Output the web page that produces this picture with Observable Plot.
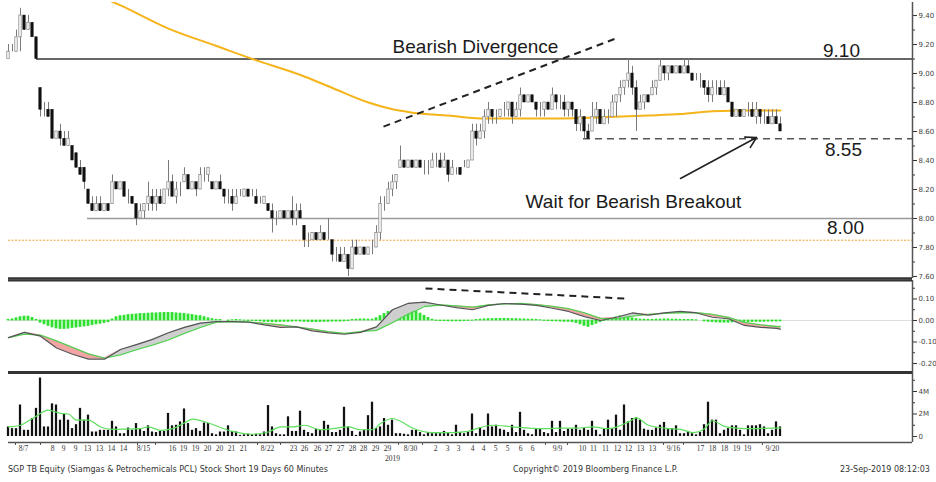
<!DOCTYPE html>
<html><head><meta charset="utf-8">
<script src="https://cdn.jsdelivr.net/npm/d3@7"></script>
<script src="https://cdn.jsdelivr.net/npm/@observablehq/plot@0.6"></script>
<style>
html,body{margin:0;padding:0;background:#fff;}
#wrap{position:relative;width:936px;height:482px;overflow:hidden;background:#fff;}
#wrap svg{position:absolute;left:0;display:block;max-width:none;}
.foot{position:absolute;top:465px;font:8px "DejaVu Sans",sans-serif;line-height:10px;color:#333;white-space:nowrap;}
</style></head><body><div id="wrap"></div>
<script>
// ---------- price bars (60-minute), one per bar index ----------
const open = [9.10,9.15,9.15,9.25,9.40,9.30,9.35,9.25,8.90,8.75,
 8.75,8.75,8.55,8.60,8.55,8.50,8.50,8.45,8.35,8.35,
 8.20,8.10,8.05,8.10,8.05,8.10,8.10,8.25,8.20,8.25,
 8.15,8.15,8.10,8.00,8.05,8.10,8.15,8.10,8.15,8.10,
 8.20,8.25,8.15,8.20,8.25,8.30,8.20,8.25,8.20,8.30,
 8.30,8.25,8.20,8.25,8.20,8.15,8.15,8.10,8.15,8.15,
 8.20,8.15,8.15,8.10,8.10,8.10,8.05,8.00,8.00,8.05,
 8.00,8.05,8.00,8.05,7.95,7.85,7.85,7.90,7.85,7.90,
 7.85,7.85,7.75,7.75,7.70,7.75,7.65,7.80,7.75,7.80,
 7.75,7.80,7.80,7.90,8.10,8.10,8.20,8.25,8.35,8.40,
 8.35,8.40,8.35,8.40,8.35,8.35,8.35,8.40,8.40,8.35,
 8.40,8.30,8.35,8.35,8.35,8.35,8.40,8.60,8.55,8.60,
 8.70,8.75,8.70,8.70,8.75,8.75,8.80,8.70,8.75,8.85,
 8.80,8.85,8.80,8.75,8.75,8.80,8.75,8.85,8.80,8.80,
 8.75,8.80,8.75,8.65,8.70,8.60,8.60,8.70,8.75,8.65,
 8.70,8.70,8.80,8.85,8.90,8.95,9.00,8.90,8.75,8.80,
 8.85,8.85,8.90,8.95,9.05,9.00,9.05,9.00,9.05,9.00,
 9.05,9.00,8.95,8.95,8.95,8.90,8.85,8.90,8.90,8.85,
 8.90,8.80,8.70,8.75,8.70,8.75,8.75,8.70,8.75,8.70,
 8.70,8.65,8.70,8.65];
const high = [9.20,9.20,9.30,9.45,9.40,9.40,9.35,9.25,8.90,8.80,
 8.80,8.75,8.60,8.65,8.60,8.60,8.50,8.45,8.40,8.35,
 8.20,8.15,8.15,8.15,8.10,8.10,8.30,8.25,8.25,8.25,
 8.20,8.15,8.10,8.10,8.10,8.25,8.20,8.20,8.20,8.20,
 8.40,8.30,8.25,8.25,8.35,8.30,8.25,8.25,8.35,8.35,
 8.35,8.25,8.25,8.30,8.20,8.20,8.20,8.20,8.20,8.20,
 8.20,8.20,8.20,8.15,8.15,8.10,8.10,8.05,8.05,8.05,
 8.05,8.15,8.10,8.10,7.95,7.90,7.90,7.90,7.95,7.90,
 8.00,7.85,7.80,7.80,7.80,7.75,7.85,7.85,7.80,7.80,
 7.80,7.85,7.95,8.15,8.15,8.25,8.30,8.30,8.50,8.40,
 8.40,8.40,8.40,8.40,8.40,8.40,8.45,8.45,8.45,8.45,
 8.40,8.40,8.35,8.35,8.40,8.40,8.65,8.65,8.65,8.75,
 8.80,8.75,8.75,8.75,8.80,8.80,8.80,8.80,8.90,8.85,
 8.85,8.85,8.80,8.80,8.80,8.80,8.90,8.85,8.85,8.85,
 8.80,8.80,8.75,8.75,8.70,8.65,8.80,8.80,8.75,8.75,
 8.75,8.85,8.85,8.95,8.95,9.10,9.05,8.95,8.85,8.85,
 8.85,8.95,8.95,9.10,9.05,9.05,9.05,9.05,9.05,9.10,
 9.10,9.00,9.00,9.00,8.95,8.95,8.95,8.95,8.95,8.95,
 8.90,8.80,8.75,8.75,8.75,8.80,8.80,8.80,8.75,8.75,
 8.75,8.75,8.75,8.70];
const low = [9.10,9.15,9.15,9.15,9.30,9.30,9.25,9.10,8.70,8.70,
 8.70,8.55,8.55,8.50,8.50,8.50,8.40,8.35,8.30,8.20,
 8.10,8.05,8.05,8.05,8.05,8.05,8.10,8.20,8.20,8.15,
 8.10,8.10,7.95,8.00,8.00,8.05,8.05,8.05,8.10,8.10,
 8.15,8.15,8.10,8.15,8.25,8.20,8.20,8.15,8.20,8.25,
 8.25,8.20,8.20,8.20,8.10,8.10,8.05,8.10,8.15,8.15,
 8.15,8.15,8.10,8.10,8.10,8.05,7.90,7.95,8.00,8.00,
 8.00,7.95,7.95,8.00,7.80,7.80,7.85,7.85,7.85,7.85,
 7.85,7.70,7.70,7.70,7.70,7.60,7.65,7.75,7.75,7.75,
 7.75,7.75,7.80,7.85,8.05,8.10,8.15,8.20,8.35,8.35,
 8.35,8.35,8.35,8.35,8.30,8.30,8.35,8.35,8.35,8.35,
 8.25,8.30,8.30,8.30,8.35,8.35,8.40,8.50,8.55,8.55,
 8.65,8.65,8.65,8.70,8.70,8.70,8.65,8.70,8.70,8.80,
 8.80,8.80,8.70,8.70,8.70,8.75,8.75,8.75,8.75,8.70,
 8.70,8.70,8.60,8.60,8.55,8.55,8.60,8.65,8.65,8.65,
 8.65,8.70,8.70,8.80,8.85,8.90,8.85,8.60,8.75,8.75,
 8.80,8.85,8.85,8.95,8.95,8.95,9.00,9.00,9.00,9.00,
 9.00,8.95,8.95,8.90,8.85,8.80,8.80,8.85,8.85,8.85,
 8.80,8.70,8.70,8.70,8.70,8.70,8.70,8.65,8.65,8.65,
 8.65,8.65,8.65,8.60];
const close = [9.15,9.15,9.25,9.40,9.30,9.35,9.25,9.10,8.75,8.75,
 8.70,8.55,8.60,8.55,8.50,8.55,8.40,8.35,8.30,8.25,
 8.10,8.05,8.10,8.05,8.10,8.05,8.25,8.20,8.25,8.15,
 8.15,8.10,8.00,8.05,8.10,8.15,8.10,8.15,8.10,8.20,
 8.25,8.15,8.20,8.20,8.30,8.20,8.25,8.20,8.30,8.30,
 8.35,8.20,8.25,8.20,8.15,8.15,8.10,8.15,8.15,8.20,
 8.15,8.15,8.10,8.10,8.15,8.05,8.00,8.00,8.05,8.00,
 8.05,8.00,8.05,8.00,7.85,7.85,7.90,7.85,7.90,7.85,
 7.85,7.75,7.75,7.70,7.75,7.65,7.80,7.75,7.80,7.75,
 7.80,7.80,7.90,8.10,8.10,8.20,8.25,8.30,8.40,8.35,
 8.40,8.35,8.40,8.35,8.35,8.35,8.40,8.40,8.35,8.40,
 8.30,8.35,8.35,8.30,8.35,8.40,8.60,8.55,8.60,8.70,
 8.75,8.70,8.70,8.75,8.75,8.80,8.70,8.75,8.85,8.80,
 8.85,8.80,8.75,8.75,8.80,8.75,8.85,8.80,8.80,8.75,
 8.80,8.75,8.65,8.70,8.60,8.55,8.70,8.75,8.65,8.70,
 8.70,8.80,8.85,8.90,8.95,9.00,8.90,8.75,8.80,8.85,
 8.80,8.90,8.95,9.05,9.00,9.05,9.00,9.05,9.00,9.05,
 9.00,8.95,8.95,8.95,8.90,8.85,8.90,8.90,8.85,8.90,
 8.80,8.70,8.75,8.70,8.75,8.75,8.70,8.75,8.70,8.70,
 8.65,8.70,8.65,8.60];
// volume in millions of shares
const volume = [0.85,0.7,0.7,2.8,0.55,0.55,1.6,2.5,5.2,0.85,
 0.85,2.9,2.8,1.45,2.0,1.45,0.7,1.05,2.5,1.45,
 1.9,0.4,0.4,0.55,0.55,0.55,1.35,0.85,0.25,0.25,
 0.75,0.55,1.15,0.7,0.45,0.95,0.4,0.35,0.45,0.45,
 2.05,0.95,1.0,1.3,2.45,1.15,0.55,0.7,0.45,1.2,
 1.15,0.25,0.15,0.4,0.4,0.95,0.45,0.4,0.1,0.15,
 0.2,0.15,0.2,0.15,0.4,2.75,0.85,0.25,0.15,0.15,
 1.75,0.45,0.45,2.25,0.55,0.35,0.25,0.65,0.55,1.35,
 1.0,0.35,0.35,0.55,2.6,0.85,0.45,0.1,0.4,0.55,
 1.85,3.05,0.7,0.85,1.6,1.0,1.45,0.25,0.25,0.2,
 0.15,0.55,0.55,0.35,0.15,0.35,0.25,0.25,0.25,0.45,
 0.35,0.15,1.0,0.35,0.25,0.4,2.0,0.25,0.75,0.55,
 2.0,0.85,1.0,0.65,0.55,0.35,1.0,0.35,2.15,0.55,
 0.25,0.15,0.65,0.65,0.35,0.25,1.35,0.35,1.35,0.45,
 0.65,0.65,1.0,0.55,0.7,0.55,1.35,0.55,0.15,0.65,
 1.45,0.7,1.9,0.55,2.8,1.3,1.6,1.65,1.45,0.65,
 0.55,0.55,0.75,1.0,1.25,0.65,0.7,0.95,0.25,0.25,
 0.45,0.25,0.15,0.35,1.05,3.05,1.45,1.45,0.25,0.55,
 0.7,0.95,0.95,0.55,0.15,0.95,0.95,0.95,1.05,0.85,
 0.25,0.55,1.3,0.85];
// MACD histogram, one per bar
const macdHist = [.003,.005,.01,.015,.018,.018,.012,.003,-.01,-.018,
 -.025,-.032,-.037,-.04,-.04,-.038,-.035,-.033,-.03,-.028,
 -.025,-.022,-.018,-.015,-.012,-.008,.005,.015,.02,.022,
 .025,.027,.028,.03,.03,.032,.033,.033,.034,.035,
 .035,.035,.033,.032,.03,.028,.025,.022,.02,.015,
 .01,.006,.003,.002,0,-.002,.001,.002,.001,-.001,
 -.002,-.002,-.003,-.004,-.006,-.007,-.008,-.008,-.007,-.006,
 -.006,-.005,-.004,-.005,-.006,-.007,-.008,-.008,-.007,-.006,
 -.006,-.005,-.005,-.005,-.004,-.003,.002,.004,.005,.005,
 .004,.004,.01,.02,.03,.04,.045,.05,.05,.05,
 .048,.045,.04,.032,.022,.012,.004,-.002,-.003,-.003,
 -.004,-.004,-.004,-.004,-.003,-.002,-.001,.002,.004,.005,
 .006,.006,.007,.007,.008,.007,.006,.006,.005,.005,
 .004,.004,.003,.001,-.002,-.003,-.004,-.004,-.005,-.006,
 -.006,-.008,-.012,-.018,-.025,-.03,-.022,-.015,-.008,-.002,
 .005,.01,.015,.02,.018,.015,.01,.006,.004,.004,
 .003,.003,.004,.004,.005,.005,.004,.004,.003,.003,
 .002,.002,.001,0,-.004,-.006,-.008,-.009,-.01,-.01,
 -.01,-.009,-.008,-.008,-.007,-.007,-.007,-.006,-.006,-.006,
 -.005,-.005,-.005,-.004];
// MACD and signal lines, read every 4th bar
const macdIdx = [0,4,8,12,16,20,24,28,32,36,40,44,48,52,56,60,64,68,72,76,80,84,88,92,96,100,104,108,112,116,120,124,128,132,136,140,144,148,152,156,160,164,168,172,176,180,184,188,192,193];
const macdVal = [-0.080,-0.055,-0.073,-0.128,-0.157,-0.180,-0.180,-0.135,-0.112,-0.088,
 -0.057,-0.032,-0.012,-0.005,-0.005,-0.008,-0.020,-0.032,-0.030,-0.048,
 -0.058,-0.064,-0.055,-0.030,0.050,0.080,0.085,0.072,0.060,0.050,
 0.070,0.079,0.076,0.070,0.057,0.042,0.018,0.000,0.015,0.035,
 0.025,0.035,0.042,0.035,0.015,0.008,-0.023,-0.032,-0.037,-0.040];
const signalVal = [-0.080,-0.063,-0.068,-0.095,-0.125,-0.155,-0.175,-0.160,-0.135,-0.115,
 -0.090,-0.060,-0.032,-0.008,-0.005,-0.008,-0.013,-0.020,-0.030,-0.040,
 -0.052,-0.060,-0.052,-0.046,-0.010,0.030,0.065,0.072,0.068,0.062,
 0.072,0.077,0.079,0.074,0.066,0.055,0.035,0.010,0.008,0.020,
 0.028,0.033,0.036,0.037,0.028,0.015,-0.009,-0.020,-0.028,-0.028];
// 200-bar moving average of price (sampled)
const maIdx = [0,15,28,40,52,61,73,81,90,95,101,110,118,135,150,160,168,176,185,193];
const maVal = [9.80,9.62,9.47,9.31,9.19,9.10,8.99,8.90,8.80,8.76,8.73,8.71,8.69,8.69,8.70,8.71,8.72,8.74,8.745,8.745];
// volume moving average (sampled)
const volMaIdx = [0,3,6,10,13,15,17,20,23,26,33,35,38,41,44,46,50,53,56,61,65,68,71,74,78,81,85,88,91,93,96,98,101,106,111,115,117,121,126,130,134,138,142,146,150,155,157,160,165,168,171,174,176,179,182,186,191,193];
const volMaVal = [0.85,1.0,1.6,2.35,2.05,2.0,1.45,1.45,0.85,0.64,0.7,0.85,0.55,0.7,1.2,1.55,1.2,0.8,0.45,0.2,0.4,0.85,0.85,1.0,0.6,0.7,0.85,0.6,0.6,1.15,1.6,1.35,0.75,0.35,0.35,0.45,0.7,1.0,0.85,0.75,0.7,0.75,0.75,0.85,0.7,1.3,1.65,1.0,0.7,0.64,0.35,0.7,1.4,0.9,0.75,0.7,0.75,0.75];
// time-axis labels (bar position, text)
const xLabelPos = [3.75,11,13.75,16.75,19.75,22.75,25.75,28.75,33.75,41,43.75,46.75,49.75,52.75,55.75,58.75,64.75,71.25,74,77.25,80,83,86,88.75,91.75,94.75,100.5,106.75,109.75,112.5,116,118.75,121.75,124.75,128,131,137.25,143.5,146.25,149.25,152.25,155,158,161,166.25,173,176,179,182,184.75,191];
const xLabelText = ["8/7","8","9","9","13","13","14","14","8/15","16","19","19","20","20","21","21","8/22","23","26","26","27","27","28","28","29","29","8/30","2","3","3","4","4","5","5","6","6","9/9","10","11","11","12","12","13","13","9/16","17","18","18","19","19","9/20"];
const weekTickPos = [1.75,8,32.25,36.75,62.25,68,97.5,103.5,134.25,139.75,163.75,168.75,188.5];
const priceTicks = [7.6,7.8,8.0,8.2,8.4,8.6,8.8,9.0,9.2,9.4];
const priceMinor = [7.7,7.9,8.1,8.3,8.5,8.7,8.9,9.1,9.3];
const macdTicks = [0.1,0,-0.1,-0.2];
const macdMinor = [0.15,0.05,-0.05,-0.15];
const volTicks = [0,2,4];
const volMinor = [1,3,5];

// ---------- tables ----------
const bars = close.map((c, i) => ({i, open: open[i], high: high[i], low: low[i], close: c, volume: volume[i], hist: macdHist[i]}));
const upBars = bars.filter(d => d.close >= d.open);
const downBars = bars.filter(d => d.close < d.open);
const macdRows = macdIdx.map((i, k) => ({i, macd: macdVal[k], signal: signalVal[k]}));
const ma = maIdx.map((i, k) => ({i, v: maVal[k]}));
const volMa = volMaIdx.map((i, k) => ({i, v: volMaVal[k]}));
const xLabels = xLabelPos.map((p, k) => ({p, t: xLabelText[k]}));

const X_END = 226;            // bar-position of the right-hand axis
const W = 936;
const common = {width: W, marginLeft: 8, marginRight: 24, style: {background: "transparent", overflow: "visible"}};
const xOpt = {domain: [0, X_END], axis: null, label: null};
const axisFont = {fontSize: 7, fontFamily: "DejaVu Sans", fill: "#444", stroke: "#333"};
const annFont = {fontSize: 19, fontFamily: "Liberation Sans", fill: "#1a1a1a", lineAnchor: "bottom"};
const wrap = document.getElementById("wrap");
function place(svg, top) { svg.style.top = top + "px"; wrap.appendChild(svg); }

// ---------- price panel ----------
const priceDomain = [7.586, 9.49];
place(Plot.plot({
  ...common, height: 280, marginTop: 2, marginBottom: 2,
  x: xOpt, y: {domain: priceDomain, axis: null, label: null},
  marks: [
    Plot.ruleY([7.85], {stroke: "#f0a030", strokeWidth: 1, strokeDasharray: "2,1.5"}),
    Plot.ruleY([8.00], {x1: 19.75, x2: X_END, stroke: "#9a9a9a", strokeWidth: 1.5}),
    Plot.ruleY([9.10], {x1: 7, x2: X_END, stroke: "#666", strokeWidth: 2}),
    Plot.ruleY([8.55], {x1: 143.75, x2: X_END, stroke: "#555", strokeWidth: 1.5, strokeDasharray: "7,5"}),
    Plot.line(ma, {x: "i", y: "v", stroke: "#f4b41a", strokeWidth: 2, curve: "monotone-x", clip: true}),
    Plot.ruleX(bars, {x: "i", y1: "low", y2: "high", stroke: "#7a7a7a", strokeWidth: 1}),
    Plot.rect(upBars, {x1: d => d.i - 0.3, x2: d => d.i + 0.3, y1: "open", y2: "close", fill: "#fff", stroke: "#8a8a8a", strokeWidth: 0.8}),
    Plot.rect(downBars, {x1: d => d.i - 0.3, x2: d => d.i + 0.3, y1: "open", y2: "close", fill: "#111", stroke: "#111", strokeWidth: 0.5}),
    Plot.link([0], {x1: 93.75, y1: 8.634, x2: 151.75, y2: 9.241, stroke: "#222", strokeWidth: 2, strokeDasharray: "7,5"}),
    Plot.arrow([0], {x1: 168, y1: 8.276, x2: 187, y2: 8.559, stroke: "#222", strokeWidth: 1.6, headLength: 11}),
    Plot.text(["Bearish Divergence"], {x: 116.75, y: 9.14, text: d => d, ...annFont}),
    Plot.text(["9.10"], {x: 208.25, y: 9.115, text: d => d, ...annFont}),
    Plot.text(["8.55"], {x: 208.75, y: 8.434, text: d => d, ...annFont}),
    Plot.text(["Wait for Bearish Breakout"], {x: 156.25, y: 8.069, text: d => d, ...annFont}),
    Plot.text(["8.00"], {x: 209.25, y: 7.89, text: d => d, ...annFont}),
    Plot.ruleX([X_END], {stroke: "#555", strokeWidth: 1.5}),
    Plot.ruleY([priceDomain[0]], {stroke: "#333", strokeWidth: 2.5}),
    Plot.axisY({anchor: "right", ticks: priceTicks, tickFormat: d => d.toFixed(2), tickSize: 4, tickPadding: 2, ...axisFont}),
    Plot.axisY({anchor: "right", ticks: priceMinor, tickSize: 2, tickFormat: () => "", ...axisFont})
  ]
}), 0);

// ---------- MACD panel ----------
const macdDomain = [-0.2419, 0.186];
place(Plot.plot({
  ...common, height: 92, marginTop: 0, marginBottom: 0,
  x: xOpt, y: {domain: macdDomain, axis: null, label: null},
  marks: [
    Plot.ruleY([0], {stroke: "#dedede", strokeWidth: 1}),
    Plot.rect(bars, {x1: d => d.i - 0.25, x2: d => d.i + 0.25, y1: 0, y2: "hist", fill: "#2ee02e", stroke: "#2ee02e", strokeWidth: 0.8}),
    Plot.areaY(macdRows, {x: "i", y1: "signal", y2: d => Math.max(d.macd, d.signal), fill: "#cfcfcf"}),
    Plot.areaY(macdRows, {x: "i", y1: "macd", y2: d => Math.max(d.macd, d.signal), fill: "#f2a4a4"}),
    Plot.line(macdRows, {x: "i", y: "signal", stroke: "#55d055", strokeWidth: 1.3}),
    Plot.line(macdRows, {x: "i", y: "macd", stroke: "#555", strokeWidth: 1.2}),
    Plot.link([0], {x1: 104.25, y1: 0.149, x2: 154.25, y2: 0.102, stroke: "#222", strokeWidth: 2, strokeDasharray: "7,5"}),
    Plot.ruleX([X_END], {stroke: "#555", strokeWidth: 1.5}),
    Plot.ruleY([macdDomain[1]], {stroke: "#333", strokeWidth: 2}),
    Plot.ruleY([macdDomain[0]], {stroke: "#333", strokeWidth: 3}),
    Plot.axisY({anchor: "right", ticks: macdTicks, tickFormat: d => d.toFixed(2), tickSize: 4, tickPadding: 2, ...axisFont}),
    Plot.axisY({anchor: "right", ticks: macdMinor, tickSize: 2, tickFormat: () => "", ...axisFont})
  ]
}), 280);

// ---------- volume panel ----------
const volDomain = [-0.533, 5.689];
place(Plot.plot({
  ...common, height: 110, marginTop: 0, marginBottom: 40,
  x: xOpt, y: {domain: volDomain, axis: null, label: null},
  marks: [
    Plot.rect(bars, {x1: d => d.i - 0.28, x2: d => d.i + 0.28, y1: 0, y2: "volume", fill: "#111"}),
    Plot.line(volMa, {x: "i", y: "v", stroke: "#5ee05e", strokeWidth: 1.2, curve: "monotone-x"}),
    Plot.ruleY([volDomain[0]], {stroke: "#555", strokeWidth: 1.5}),
    Plot.ruleX([X_END], {stroke: "#555", strokeWidth: 1.5}),
    Plot.axisY({anchor: "right", ticks: volTicks, tickFormat: d => d === 0 ? "0" : d + "M", tickSize: 4, tickPadding: 2, ...axisFont}),
    Plot.axisY({anchor: "right", ticks: volMinor, tickSize: 2, tickFormat: () => "", ...axisFont}),
    Plot.axisX({anchor: "bottom", ticks: weekTickPos, tickSize: 3, tickFormat: () => "", stroke: "#555", fill: "#555"}),
    Plot.text(xLabels, {x: "p", text: "t", frameAnchor: "bottom", lineAnchor: "top", dy: 3, fontSize: 7.5, fontFamily: "Liberation Sans Narrow", fill: "#333"}),
    Plot.text(["2019"], {x: 96, text: d => d, frameAnchor: "bottom", lineAnchor: "top", dy: 13, fontSize: 7.5, fontFamily: "Liberation Sans Narrow", fill: "#333"})
  ]
}), 372);

// ---------- footer ----------
[["SGP TB Equity (Siamgas & Petrochemicals PCL) Stock Short 19 Days 60 Minutes", 8],
 ["Copyright\u00a9 2019 Bloomberg Finance L.P.", 513],
 ["23-Sep-2019 08:12:03", 840]].forEach(([t, x]) => {
  const d = document.createElement("div");
  d.className = "foot"; d.style.left = x + "px"; d.textContent = t;
  wrap.appendChild(d);
});
</script></body></html>
